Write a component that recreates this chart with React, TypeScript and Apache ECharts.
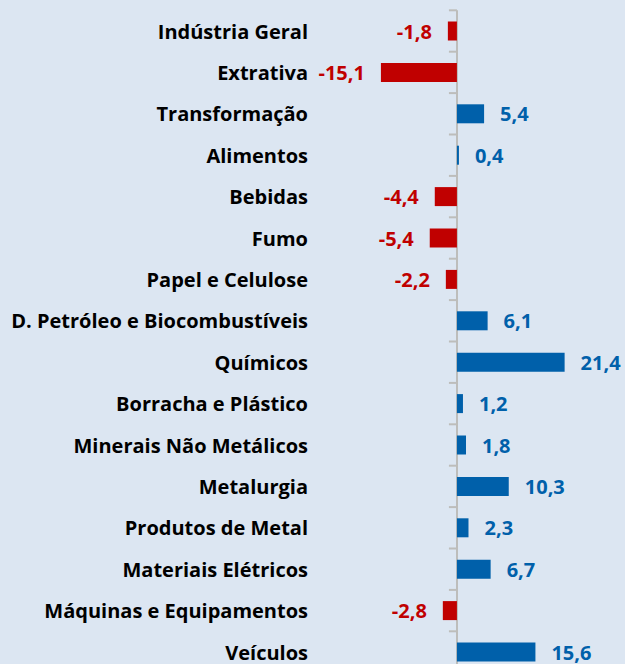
import React, { useEffect, useRef } from "react";
import * as echarts from "echarts";

const categories = [
  "Indústria Geral",
  "Extrativa",
  "Transformação",
  "Alimentos",
  "Bebidas",
  "Fumo",
  "Papel e Celulose",
  "D. Petróleo e Biocombustíveis",
  "Químicos",
  "Borracha e Plástico",
  "Minerais Não Metálicos",
  "Metalurgia",
  "Produtos de Metal",
  "Materiais Elétricos",
  "Máquinas e Equipamentos",
  "Veículos",
];

const values = [-1.8, -15.1, 5.4, 0.4, -4.4, -5.4, -2.2, 6.1, 21.4, 1.2, 1.8, 10.3, 2.3, 6.7, -2.8, 15.6];

const RED = "#c00000";
const BLUE = "#0060aa";
const AXIS = "#bdbdbb";
const FONT = "Open Sans";
const X_MIN = -28;
const X_MAX = 33;

export default function App() {
  const ref = useRef<HTMLDivElement>(null);
  useEffect(() => {
    if (!ref.current) return;
    const chart = echarts.init(ref.current, undefined, { renderer: "svg" });
    const data = values.map((v) => {
      const c = v < 0 ? RED : BLUE;
      return {
        value: v,
        itemStyle: { color: c },
        label: {
          show: true,
          position: v < 0 ? "left" : "right",
          distance: 16,
          color: c,
          fontFamily: FONT,
          fontWeight: "bold",
          fontSize: 20,
          formatter: (p: any) => p.value.toFixed(1).replace(".", ","),
        },
      };
    });
    const tickData = categories.map((_, i) => [0, i]);
    chart.setOption({
      animation: false,
      backgroundColor: "#dce6f2",
      grid: { left: 316, top: 10.3, height: 662.4, width: 307, containLabel: false },
      xAxis: { type: "value", min: X_MIN, max: X_MAX, show: false, splitLine: { show: false } },
      yAxis: {
        type: "category",
        data: categories,
        inverse: true,
        position: "left",
        axisLine: { show: false },
        axisTick: { show: false },
        axisLabel: {
          margin: 8,
          color: "#000",
          fontFamily: FONT,
          fontWeight: "bold",
          fontSize: 20,
        },
      },
      series: [
        {
          type: "custom",
          z: 1,
          silent: true,
          clip: false,
          data: tickData,
          renderItem: (params: any, api: any) => {
            const i = api.value(1);
            const p = api.coord([0, i]);
            const q = api.coord([0, i === 0 ? 1 : i - 1]);
            const band = Math.abs(q[1] - p[1]);
            const yTop = p[1] - band / 2;
            return {
              type: "line",
              shape: { x1: p[0] - 8, y1: yTop, x2: p[0], y2: yTop },
              style: { stroke: AXIS, lineWidth: 2 },
            };
          },
        },
        {
          type: "bar",
          z: 2,
          barWidth: 19,
          data,
          markLine: {
            silent: true,
            symbol: "none",
            z: 1,
            label: { show: false },
            lineStyle: { color: AXIS, width: 2, type: "solid" },
            data: [{ xAxis: 0 }],
          },
        },
      ],
    });
    return () => chart.dispose();
  }, []);
  return (
    <div
      ref={ref}
      style={{ position: "fixed", left: 0, top: 0, width: 625, height: 690 }}
    />
  );
}
